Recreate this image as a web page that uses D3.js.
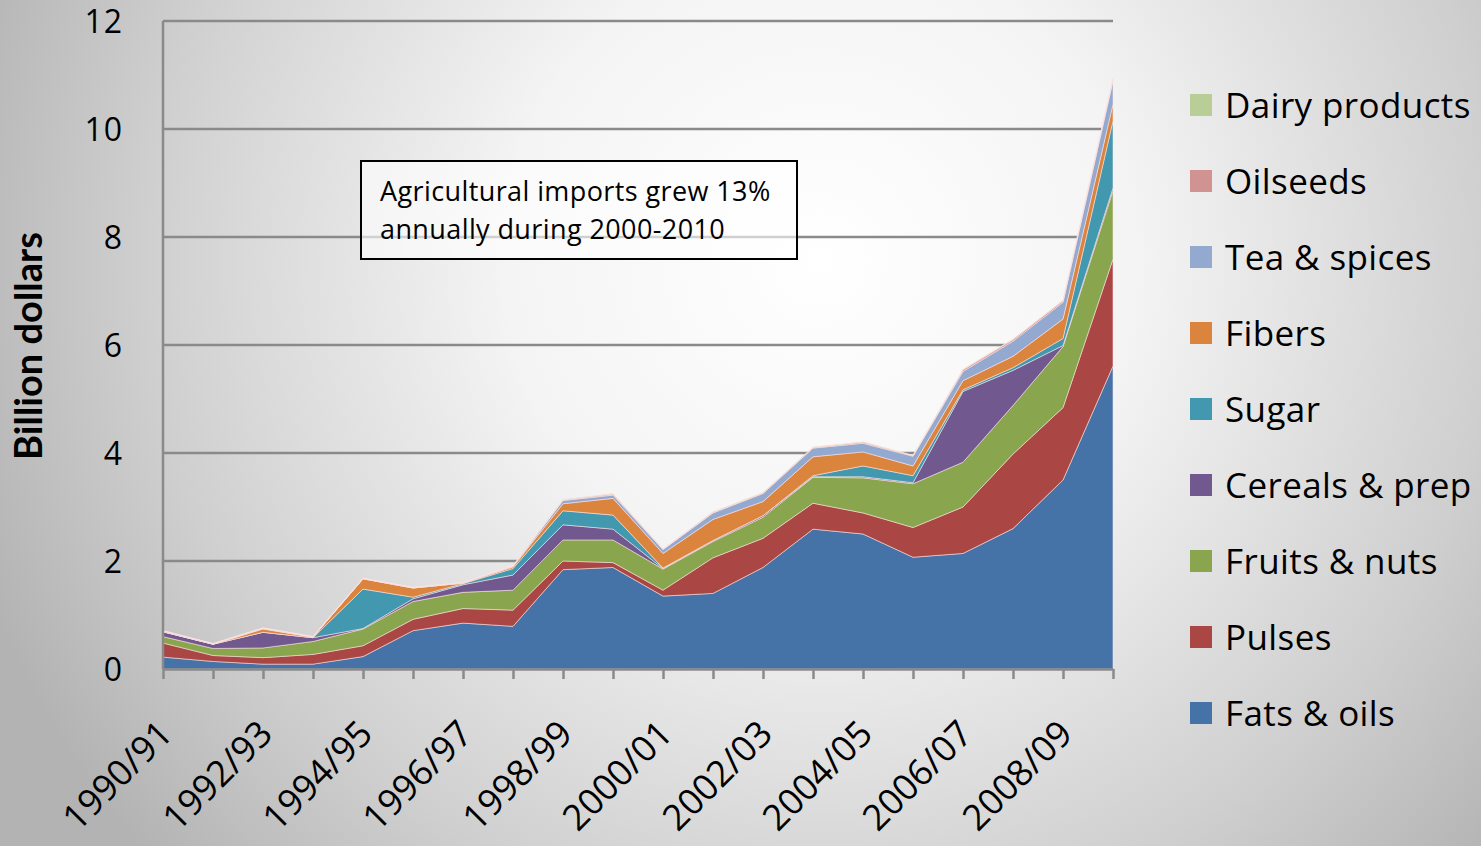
<!DOCTYPE html>
<html>
<head>
<meta charset="utf-8">
<script src="https://cdn.jsdelivr.net/npm/d3@7"></script>
<style>
  html, body { margin: 0; padding: 0; }
  body { width: 1481px; height: 846px; overflow: hidden; }
  svg { display: block; font-family: 'Open Sans', sans-serif; }
</style>
</head>
<body>
<div id="chart"></div>
<script>
const categories = ['1990/91', '1991/92', '1992/93', '1993/94', '1994/95', '1995/96', '1996/97', '1997/98', '1998/99', '1999/00',
  '2000/01', '2001/02', '2002/03', '2003/04', '2004/05', '2005/06', '2006/07', '2007/08', '2008/09', '2009/10'];

// billion dollars
const fatsOils = [0.22, 0.14, 0.09, 0.09, 0.23, 0.71, 0.85, 0.79, 1.84, 1.88, 1.35, 1.40, 1.88, 2.59, 2.50, 2.07, 2.14, 2.60, 3.50, 5.61];
const pulses = [0.26, 0.11, 0.12, 0.18, 0.20, 0.21, 0.27, 0.30, 0.16, 0.09, 0.11, 0.66, 0.54, 0.48, 0.39, 0.55, 0.86, 1.38, 1.34, 1.98];
const fruitsNuts = [0.12, 0.13, 0.18, 0.24, 0.31, 0.33, 0.30, 0.37, 0.39, 0.42, 0.39, 0.30, 0.39, 0.48, 0.65, 0.81, 0.83, 0.90, 1.13, 1.27];
const cerealsPrep = [0.09, 0.08, 0.29, 0.07, 0.01, 0.05, 0.14, 0.28, 0.28, 0.20, 0.01, 0.02, 0.03, 0.01, 0.02, 0.02, 1.31, 0.65, 0.02, 0.05];
const sugar = [0.00, 0.00, 0.00, 0.00, 0.73, 0.03, 0.02, 0.12, 0.26, 0.26, 0.01, 0.00, 0.00, 0.02, 0.20, 0.13, 0.03, 0.05, 0.13, 1.24];
const fibers = [0.00, 0.00, 0.06, 0.01, 0.19, 0.17, 0.01, 0.03, 0.13, 0.31, 0.27, 0.39, 0.26, 0.35, 0.26, 0.18, 0.17, 0.21, 0.36, 0.31];
const teaSpices = [0.01, 0.00, 0.01, 0.00, 0.00, 0.00, 0.00, 0.01, 0.06, 0.06, 0.07, 0.12, 0.15, 0.16, 0.16, 0.18, 0.17, 0.28, 0.31, 0.43];
const oilseeds = [0.01, 0.01, 0.01, 0.01, 0.01, 0.01, 0.01, 0.01, 0.01, 0.02, 0.01, 0.01, 0.01, 0.01, 0.02, 0.01, 0.03, 0.03, 0.03, 0.04];
const dairyProducts = [0.00, 0.00, 0.00, 0.00, 0.00, 0.00, 0.00, 0.00, 0.01, 0.01, 0.00, 0.01, 0.01, 0.01, 0.01, 0.01, 0.01, 0.01, 0.01, 0.01];

const seriesNames = ['Fats & oils', 'Pulses', 'Fruits & nuts', 'Cereals & prep', 'Sugar', 'Fibers', 'Tea & spices', 'Oilseeds', 'Dairy products'];
const seriesValues = [fatsOils, pulses, fruitsNuts, cerealsPrep, sugar, fibers, teaSpices, oilseeds, dairyProducts];
const seriesColors = ['#4572A7', '#AA4643', '#89A54E', '#71588F', '#4198AF', '#DB843D', '#93A9CF', '#D19392', '#B9CD96'];

const yTicks = [0, 2, 4, 6, 8, 10, 12];
const annotationLines = ['Agricultural imports grew 13%', 'annually during 2000-2010'];
const yTitle = 'Billion dollars';

const width = 1481;
const height = 846;
const margin = { top: 21, right: 368, bottom: 177, left: 163 };
const plotW = width - margin.left - margin.right;
const plotH = height - margin.top - margin.bottom;
const axisColor = '#8a8a8a';

const table = categories.map((c, i) => {
  const row = { category: c };
  seriesNames.forEach((name, k) => row[name] = seriesValues[k][i]);
  return row;
});

const svg = d3.select('#chart')
  .append('svg')
  .attr('width', width)
  .attr('height', height)
  .attr('viewBox', `0 0 ${width} ${height}`);

// slide background
const grad = svg.append('defs')
  .append('radialGradient')
  .attr('id', 'bg')
  .attr('gradientUnits', 'userSpaceOnUse')
  .attr('cx', 820)
  .attr('cy', 260)
  .attr('r', 900);
grad.append('stop').attr('offset', 0).attr('stop-color', '#ffffff');
grad.append('stop').attr('offset', 0.35).attr('stop-color', '#f4f4f4');
grad.append('stop').attr('offset', 0.75).attr('stop-color', '#cfcfcf');
grad.append('stop').attr('offset', 1).attr('stop-color', '#b3b3b3');

svg.append('rect')
  .attr('width', width)
  .attr('height', height)
  .attr('fill', 'url(#bg)');

const g = svg.append('g')
  .attr('transform', `translate(${margin.left},${margin.top})`);

const x = d3.scalePoint()
  .domain(categories)
  .range([0, plotW]);

const y = d3.scaleLinear()
  .domain([0, 12])
  .range([plotH, 0]);

// gridlines
g.append('g')
  .selectAll('line')
  .data(yTicks.filter(t => t > 0))
  .join('line')
  .attr('x1', 0)
  .attr('x2', plotW)
  .attr('y1', d => y(d))
  .attr('y2', d => y(d))
  .attr('stroke', axisColor)
  .attr('stroke-width', 2.5);

const stack = d3.stack().keys(seriesNames);
const layers = stack(table);

const area = d3.area()
  .x(d => x(d.data.category))
  .y0(d => y(d[0]))
  .y1(d => y(d[1]));

g.append('g')
  .selectAll('path')
  .data(layers)
  .join('path')
  .attr('fill', (d, i) => seriesColors[i])
  .attr('stroke', 'rgba(255,230,230,0.55)')
  .attr('stroke-width', 1)
  .attr('d', area);

// left axis line
g.append('line')
  .attr('x1', 0)
  .attr('x2', 0)
  .attr('y1', 0)
  .attr('y2', plotH)
  .attr('stroke', axisColor)
  .attr('stroke-width', 2.5);

// y tick labels
g.append('g')
  .selectAll('text')
  .data(yTicks)
  .join('text')
  .attr('x', -40)
  .attr('y', d => y(d))
  .attr('dy', '0.36em')
  .attr('text-anchor', 'end')
  .attr('font-size', 32)
  .attr('letter-spacing', 1)
  .attr('fill', '#000')
  .text(d => d);

// x axis
const xAxis = g.append('g')
  .attr('transform', `translate(0,${plotH})`)
  .call(d3.axisBottom(x)
    .tickSize(10)
    .tickSizeOuter(0)
    .tickFormat((d, i) => i % 2 ? '' : d));

xAxis.select('.domain')
  .attr('stroke', axisColor)
  .attr('stroke-width', 2.5);

xAxis.selectAll('.tick line')
  .attr('stroke', axisColor)
  .attr('stroke-width', 2.5);

xAxis.selectAll('.tick text')
  .attr('x', 0)
  .attr('y', 0)
  .attr('dy', 0)
  .attr('transform', 'translate(11,67) rotate(-45)')
  .attr('text-anchor', 'end')
  .attr('font-family', "'Open Sans', sans-serif")
  .attr('font-size', 36)
  .attr('fill', '#000');

// y title
svg.append('text')
  .attr('transform', 'translate(42,346) rotate(-90)')
  .attr('text-anchor', 'middle')
  .attr('font-family', 'Lato, sans-serif')
  .attr('font-weight', 'bold')
  .attr('font-size', 38)
  .attr('fill', '#000')
  .text(yTitle);

// annotation box
svg.append('rect')
  .attr('x', 361)
  .attr('y', 161)
  .attr('width', 436)
  .attr('height', 98)
  .attr('fill', '#ffffff')
  .attr('fill-opacity', 0.6)
  .attr('stroke', '#000')
  .attr('stroke-width', 2);

svg.append('g')
  .selectAll('text')
  .data(annotationLines)
  .join('text')
  .attr('x', 380)
  .attr('y', (d, i) => 201 + i * 38)
  .attr('font-size', 27)
  .attr('letter-spacing', 0.4)
  .attr('fill', '#000')
  .text(d => d);

// legend, top entry is the last series
const legend = svg.append('g')
  .selectAll('g')
  .data(seriesNames.map((n, i) => ({ name: n, color: seriesColors[i] })).reverse())
  .join('g')
  .attr('transform', (d, i) => `translate(1190,${105 + i * 76})`);

legend.append('rect')
  .attr('x', 0)
  .attr('y', -11)
  .attr('width', 22)
  .attr('height', 22)
  .attr('fill', d => d.color);

legend.append('text')
  .attr('x', 35)
  .attr('y', 0)
  .attr('dy', '0.36em')
  .attr('font-size', 35)
  .attr('letter-spacing', 0.4)
  .attr('fill', '#000')
  .text(d => d.name);
</script>
</body>
</html>
